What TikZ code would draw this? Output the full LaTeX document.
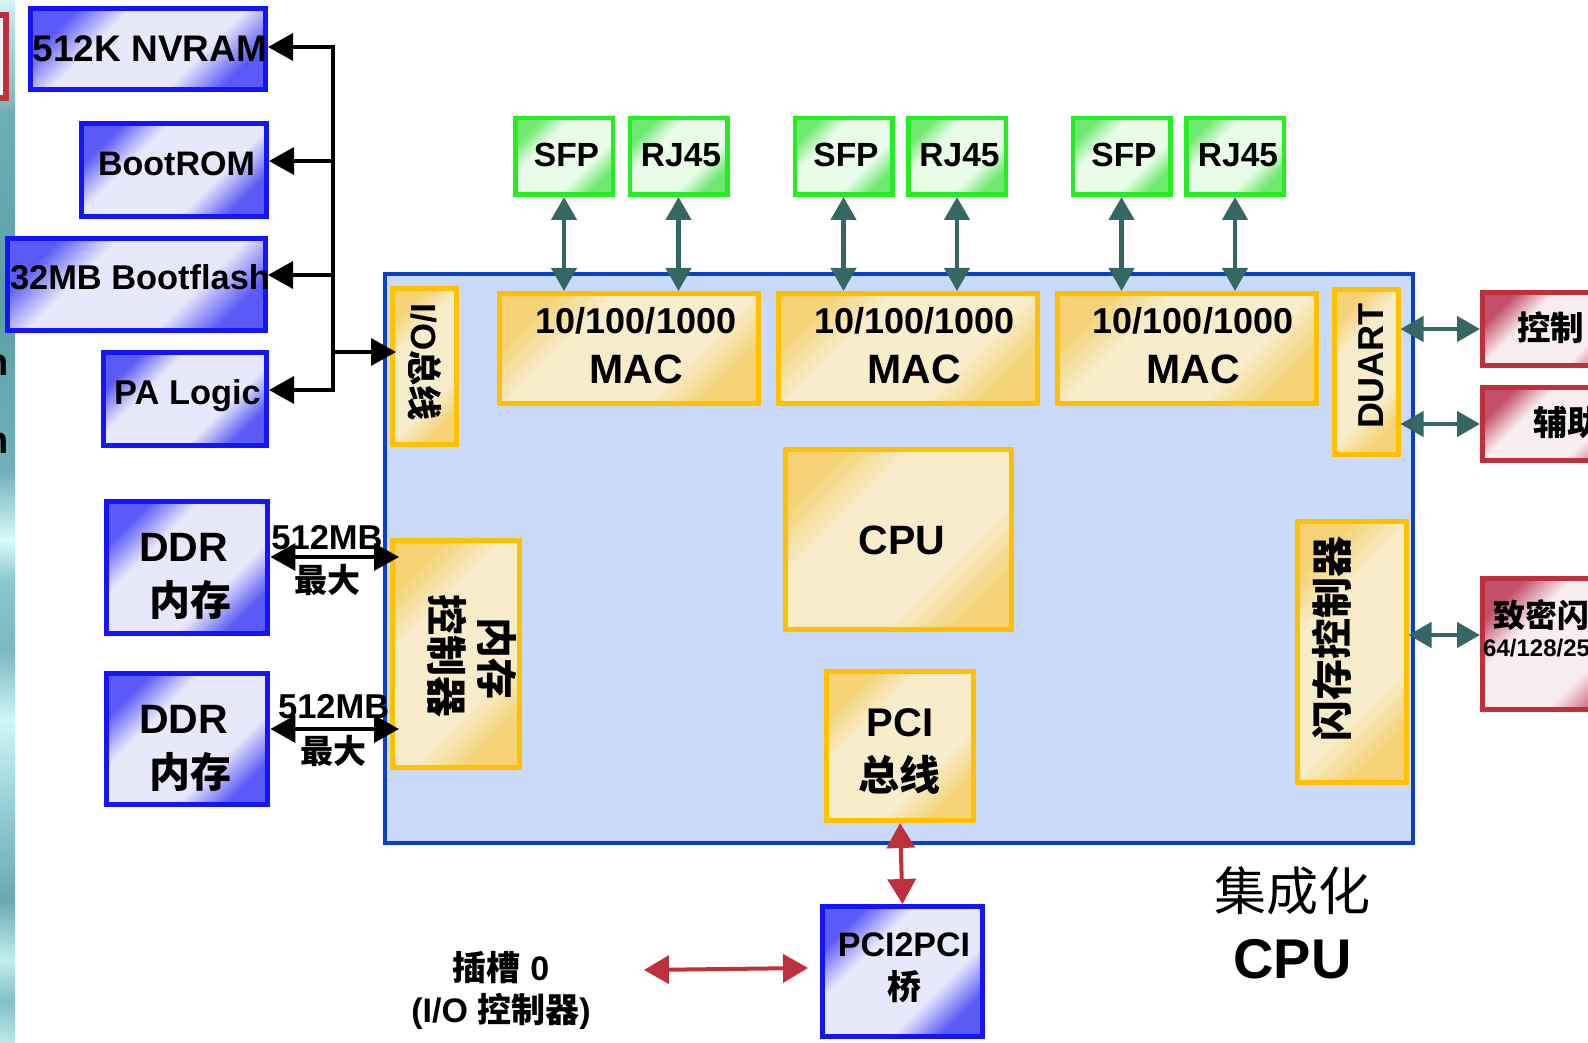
\documentclass[tikz,border=0pt]{standalone}
\usepackage{fontspec}
\setmainfont{Liberation Sans}
\newfontfamily\cjk{Noto Sans CJK SC}
\usetikzlibrary{arrows.meta}
\newcommand\zh[1]{{\cjk #1}}

\definecolor{bBorder}{HTML}{1414FF}
\definecolor{bDark}{HTML}{5A5AF6}
\definecolor{bLight}{HTML}{E8E8FB}
\definecolor{gBorder}{HTML}{22EE22}
\definecolor{gDark}{HTML}{6FE86F}
\definecolor{gLight}{HTML}{E8FCE8}
\definecolor{yBorder}{HTML}{FFC000}
\definecolor{yDark}{HTML}{F4D275}
\definecolor{yLight}{HTML}{F8EDCB}
\definecolor{rBorder}{HTML}{C0303C}
\definecolor{rDark}{HTML}{C2506A}
\definecolor{rLight}{HTML}{F8EEF0}
\definecolor{socFill}{HTML}{C8D9F9}
\definecolor{socBorder}{HTML}{0A3FCC}
\definecolor{tealArrow}{HTML}{356864}
\definecolor{redArrow}{HTML}{BF2F3E}
\definecolor{fragFill}{HTML}{F0F6F6}

\pgfdeclareverticalshading{blueshade}{100bp}{color(0bp)=(bDark); color(25bp)=(bDark); color(37bp)=(bLight); color(63bp)=(bLight); color(75bp)=(bDark); color(100bp)=(bDark)}
\pgfdeclareverticalshading{greenshade}{100bp}{color(0bp)=(gDark); color(25bp)=(gDark); color(37bp)=(gLight); color(63bp)=(gLight); color(75bp)=(gDark); color(100bp)=(gDark)}
\pgfdeclareverticalshading{yellowshade}{100bp}{color(0bp)=(yDark); color(25bp)=(yDark); color(37bp)=(yLight); color(63bp)=(yLight); color(75bp)=(yDark); color(100bp)=(yDark)}
\pgfdeclareverticalshading{redshade}{100bp}{color(0bp)=(rDark); color(25bp)=(rDark); color(37bp)=(rLight); color(63bp)=(rLight); color(75bp)=(rDark); color(100bp)=(rDark)}

\tikzset{
  bx/.style={rectangle, inner sep=0pt, line width=5pt},
  bluebox/.style={bx, draw=bBorder, shading=blueshade, shading angle=45},
  greenbox/.style={bx, draw=gBorder, shading=greenshade, shading angle=45, line width=4.5pt},
  yellowbox/.style={bx, draw=yBorder, shading=yellowshade, shading angle=45},
  redbox/.style={bx, draw=rBorder, shading=redshade, shading angle=45},
  socbox/.style={rectangle, inner sep=0pt, draw=socBorder, fill=socFill, line width=4pt},
  txt/.style={inner sep=0pt, text depth=0pt,
    /utils/exec={\pgfmathsetmacro\mytxth{0.72*#1}},
    text height=\mytxth pt, font=\bfseries\fontsize{#1}{#1}\selectfont},
  blk/.style={line width=3.5pt, draw=black},
  bhead/.tip={Triangle[length=25pt,width=27pt]},
  thead/.tip={Triangle[length=23pt,width=25pt]},
  rhead/.tip={Triangle[length=25pt,width=28pt]},
  tl/.style={line width=4.5pt, draw=tealArrow, thead-thead},
  rd/.style={line width=4pt, draw=redArrow, rhead-rhead},
}

\begin{document}
\begin{tikzpicture}[x=1pt,y=-1pt]
\useasboundingbox (0,0) rectangle (1588,1043);
\clip (0,0) rectangle (1588,1043);
\fill[white] (0,0) rectangle (1588,1043);

% left teal strip of the slide background
\foreach \ya/\yb/\ca/\cb in {0/20/D8F4F4/B8E4E6, 20/110/B8E4E6/78B4BA, 110/300/6EAEB5/5E9EA6,
   300/470/5E9EA6/70B0B8, 470/540/70B0B8/D8FAFA, 540/580/D8FAFA/8CC8CE, 580/650/8CC8CE/78B8C0,
   650/720/78B8C0/D0F6F6, 720/800/D0F6F6/9AD2D8, 800/900/9AD2D8/68A8B0, 900/960/68A8B0/C4EEEE,
   960/1000/C4EEEE/80C0C8, 1000/1043/80C0C8/C0E8E8}{
  \definecolor{stA}{HTML}{\ca}\definecolor{stB}{HTML}{\cb}
  \shade[top color=stA, bottom color=stB] (0,\ya) rectangle (15,\yb);
}
\filldraw[draw=rBorder, fill=fragFill, line width=6pt] (-30,15) rectangle (6,98);
\node[anchor=base east, inner sep=0pt, font=\bfseries\fontsize{38}{38}\selectfont] (nfragA) at (9,375) {n};
\node[anchor=base east, inner sep=0pt, font=\bfseries\fontsize{38}{38}\selectfont] (nfragB) at (9,453) {n};

% integrated CPU container
\node[socbox, minimum width=1028, minimum height=569] (soc) at (899,558.5) {};

% left blue boxes
\node[bluebox, minimum width=235, minimum height=81] (nvram) at (148,49) {};
\node[bluebox, minimum width=185, minimum height=93] (bootrom) at (174,170) {};
\node[bluebox, minimum width=258, minimum height=92] (bootflash) at (136.5,284.5) {};
\node[bluebox, minimum width=163, minimum height=93] (palogic) at (185,399) {};
\node[bluebox, minimum width=161, minimum height=132] (ddr1) at (187.4,567.7) {};
\node[bluebox, minimum width=161, minimum height=131] (ddr2) at (187.4,739.4) {};
\node[bluebox, minimum width=160, minimum height=130] (pcibr) at (902.5,971.5) {};

% green ports
\foreach \n/\x in {sfp1/564, rj1/678.5, sfp2/843.5, rj2/957, sfp3/1121.5, rj3/1235}{
  \node[greenbox, minimum width=97.5, minimum height=76.5] (\n) at (\x,156.5) {};
}

% yellow blocks
\node[yellowbox, minimum width=64, minimum height=156] (io) at (424.5,366.5) {};
\node[yellowbox, minimum width=127, minimum height=227] (memctrl) at (456,654) {};
\node[yellowbox, minimum width=259, minimum height=110] (mac1) at (629,348.5) {};
\node[yellowbox, minimum width=259, minimum height=110] (mac2) at (907.5,348.5) {};
\node[yellowbox, minimum width=259, minimum height=110] (mac3) at (1186.5,348.5) {};
\node[yellowbox, minimum width=64, minimum height=165] (duart) at (1366,371.5) {};
\node[yellowbox, minimum width=226, minimum height=180] (cpu) at (898.5,539.5) {};
\node[yellowbox, minimum width=147, minimum height=149] (pci) at (900,746) {};
\node[yellowbox, minimum width=109, minimum height=261] (flash) at (1351.5,652) {};

% red peripherals (cut by the right edge)
\node[redbox, minimum width=155, minimum height=73] (ctrl) at (1560,329) {};
\node[redbox, minimum width=155, minimum height=73] (aux) at (1560,424) {};
\node[redbox, minimum width=155, minimum height=131] (nand) at (1560,644) {};

% texts
\node[txt=37] (nvramT) at (150,48) {512K NVRAM};
\node[txt=34] (bootromT) at (176.5,163) {BootROM};
\node[txt=34.4] (bootflashT) at (140,277) {32MB Bootflash};
\node[txt=34.4] (palogicT) at (187.5,392) {PA Logic};
\node[txt=41] (ddr1T) at (183.5,547) {DDR};
\node[txt=41] (ddr1Z) at (190,601) {\zh{内存}};
\node[txt=41] (ddr2T) at (183.5,718.6) {DDR};
\node[txt=41] (ddr2Z) at (190,773) {\zh{内存}};
\node[txt=34.5] (bwA) at (327,537) {512MB};
\node[txt=33] (maxA) at (327.7,581) {\zh{最大}};
\node[txt=34.5] (bwB) at (333.7,706) {512MB};
\node[txt=33] (maxB) at (333.7,751.5) {\zh{最大}};
\node[txt=35, rotate=-90] (ioT) at (424,362) {I/O\zh{总线}};
\node[txt=41, rotate=-90] (memA) at (496,658) {\zh{内存}};
\node[txt=41, rotate=-90] (memB) at (446,656) {\zh{控制器}};
\foreach \n/\x in {1/636, 2/914.5, 3/1193}{
  \node[txt=36] (mac\n a) at (\x,321) {10/100/1000};
  \node[txt=41] (mac\n b) at (\x,369) {MAC};
}
\node[txt=36, rotate=90] (duartT) at (1370.5,366) {DUART};
\node[txt=41] (cpuT) at (902,540) {CPU};
\node[txt=40] (pciT) at (900,722) {PCI};
\node[txt=41] (pciZ) at (899,776) {\zh{总线}};
\node[txt=41, rotate=90] (flashT) at (1333,639) {\zh{闪存控制器}};
\foreach \n/\x/\t in {sfp1T/566.5/SFP, rj1T/681/RJ45, sfp2T/846/SFP, rj2T/959.5/RJ45, sfp3T/1124/SFP, rj3T/1238/RJ45}{
  \node[txt=33.5] (\n) at (\x,154) {\t};
}
\node[txt=33.5, anchor=west] (ctrlT) at (1517,328) {\zh{控制}};
\node[txt=34, anchor=west] (auxT) at (1533,423) {\zh{辅助}};
\node[txt=32, anchor=west] (nandT) at (1493,616) {\zh{致密闪}};
\node[txt=24, anchor=west] (nandS) at (1483,648) {64/128/25};
\node[txt=34] (brT) at (904,944) {PCI2PCI};
\node[txt=34] (brZ) at (904,987) {\zh{桥}};
\node[txt=34] (slotA) at (501,968) {\zh{插槽} 0};
\node[txt=34] (slotB) at (501,1010) {(I/O \zh{控制器})};
\node[txt=52, font=\mdseries\fontsize{52}{52}\selectfont] (socA) at (1292.5,892) {\zh{集成化}};
\node[txt=56] (socB) at (1292.5,958) {CPU};

% local bus
\coordinate (bA) at (333,47);
\coordinate (bB) at (333,161);
\coordinate (bC) at (333,275);
\coordinate (bD) at (333,390);
\coordinate (bIO) at (333,352);
\draw[blk, bhead-bhead] (bA -| nvram.east) -- (bA) -- (bD) -- (bD -| palogic.east);
\draw[blk, -bhead] (bB) -- (bB -| bootrom.east);
\draw[blk, -bhead] (bC) -- (bC -| bootflash.east);
\draw[blk, -bhead] (bIO) -- ([xshift=6pt]bIO -| io.west);

% DDR links
\coordinate (dA) at (399,557);
\coordinate (dB) at (399,729);
\draw[blk, bhead-bhead] (dA -| ddr1.east) -- (dA);
\draw[blk, bhead-bhead] (dB -| ddr2.east) -- (dB);

% ports to MACs
\draw[tl] (sfp1.south) -- (sfp1.south |- mac1.north);
\draw[tl] (rj1.south) -- (rj1.south |- mac1.north);
\draw[tl] (sfp2.south) -- (sfp2.south |- mac2.north);
\draw[tl] (rj2.south) -- (rj2.south |- mac2.north);
\draw[tl] (sfp3.south) -- (sfp3.south |- mac3.north);
\draw[tl] (rj3.south) -- (rj3.south |- mac3.north);

% DUART and flash links
\draw[tl] (duart.east |- ctrl.west) -- (ctrl.west);
\draw[tl] (duart.east |- aux.west) -- (aux.west);
\coordinate (fl) at (1401,635);
\draw[tl] (fl -| flash.east) -- (fl -| nand.west);

% PCI links
\draw[rd] (pci.south) -- (pcibr.north);
\coordinate (sL) at (644,970);
\coordinate (sR) at (808,968);
\draw[rd] (sL) -- (sR);
\end{tikzpicture}
\end{document}
